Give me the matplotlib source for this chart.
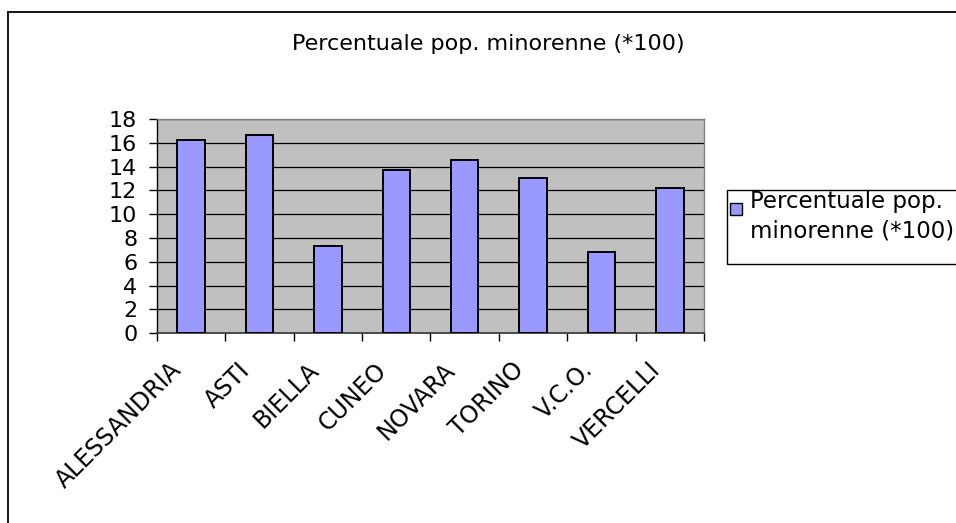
import numpy as np
import matplotlib.pyplot as plt
from matplotlib.patches import Rectangle
from matplotlib.transforms import ScaledTranslation

plt.rcParams['font.family'] = ['DejaVu Sans']

province = ['ALESSANDRIA', 'ASTI', 'BIELLA', 'CUNEO', 'NOVARA', 'TORINO', 'V.C.O.', 'VERCELLI']
valori = [16.25, 16.62, 7.36, 13.72, 14.58, 13.04, 6.83, 12.2]
titolo = 'Percentuale pop. minorenne (*100)'
yticks = list(range(0, 19, 2))

fig = plt.figure(figsize=(9.56, 5.23), dpi=100)
W, H = 956, 523

# outer chart border (right/bottom edges fall outside the picture)
fig.patches.append(Rectangle((8 / W, -0.1), 1.2, (H - 12) / H + 0.1, transform=fig.transFigure,
                             fill=False, edgecolor='black', linewidth=1.3, clip_on=False))

ax = fig.add_axes([156.7 / W, (H - 333.3) / H, (704.3 - 156.7) / W, (333.3 - 119) / H])
ax.set_facecolor('#C0C0C0')

x = np.arange(len(province))
ax.bar(x, valori, width=0.4, color='#9999FF', edgecolor='black', linewidth=1.4, zorder=3)

ax.set_xlim(-0.5, len(province) - 0.5)
ax.set_ylim(0, 18)
ax.set_yticks(yticks)
ax.yaxis.grid(True, color='black', linewidth=0.9, zorder=1)
ax.set_axisbelow(True)

# category boundaries get tick marks, labels sit under the centres
ax.set_xticks(np.arange(-0.5, len(province), 1.0))
ax.set_xticklabels([])
ax.tick_params(axis='x', length=6, width=1, color='black')
ax.tick_params(axis='y', length=6, width=1, pad=8, labelsize=16)

shift = ax.get_xaxis_transform() + ScaledTranslation(-0.13, -0.33, fig.dpi_scale_trans)
for i, nome in enumerate(province):
    ax.text(i, 0, nome, transform=shift, rotation=45, ha='right', va='center',
            rotation_mode='anchor', fontsize=17)

for s in ['top', 'right']:
    ax.spines[s].set_color('#808080')
    ax.spines[s].set_linewidth(1)
ax.spines['left'].set_color('black')
ax.spines['left'].set_linewidth(1)
ax.spines['bottom'].set_color('#404040')
ax.spines['bottom'].set_linewidth(1.3)

fig.text(488 / W, (H - 50) / H, titolo, ha='center', va='baseline', fontsize=16)

# legend box (runs off the right edge like the original)
fig.patches.append(Rectangle((726.7 / W, (H - 264.3) / H), 0.4, 74.3 / H, transform=fig.transFigure,
                             facecolor='white', edgecolor='black', linewidth=1, clip_on=False))
fig.patches.append(Rectangle((730 / W, (H - 214.5) / H), 12 / W, 11 / H, transform=fig.transFigure,
                             facecolor='#9999FF', edgecolor='black', linewidth=1))
fig.text(750 / W, (H - 208) / H, 'Percentuale pop.', ha='left', va='baseline', fontsize=16.5)
fig.text(750 / W, (H - 238) / H, 'minorenne (*100)', ha='left', va='baseline', fontsize=16.5)

fig.savefig('out.png', dpi=100)
